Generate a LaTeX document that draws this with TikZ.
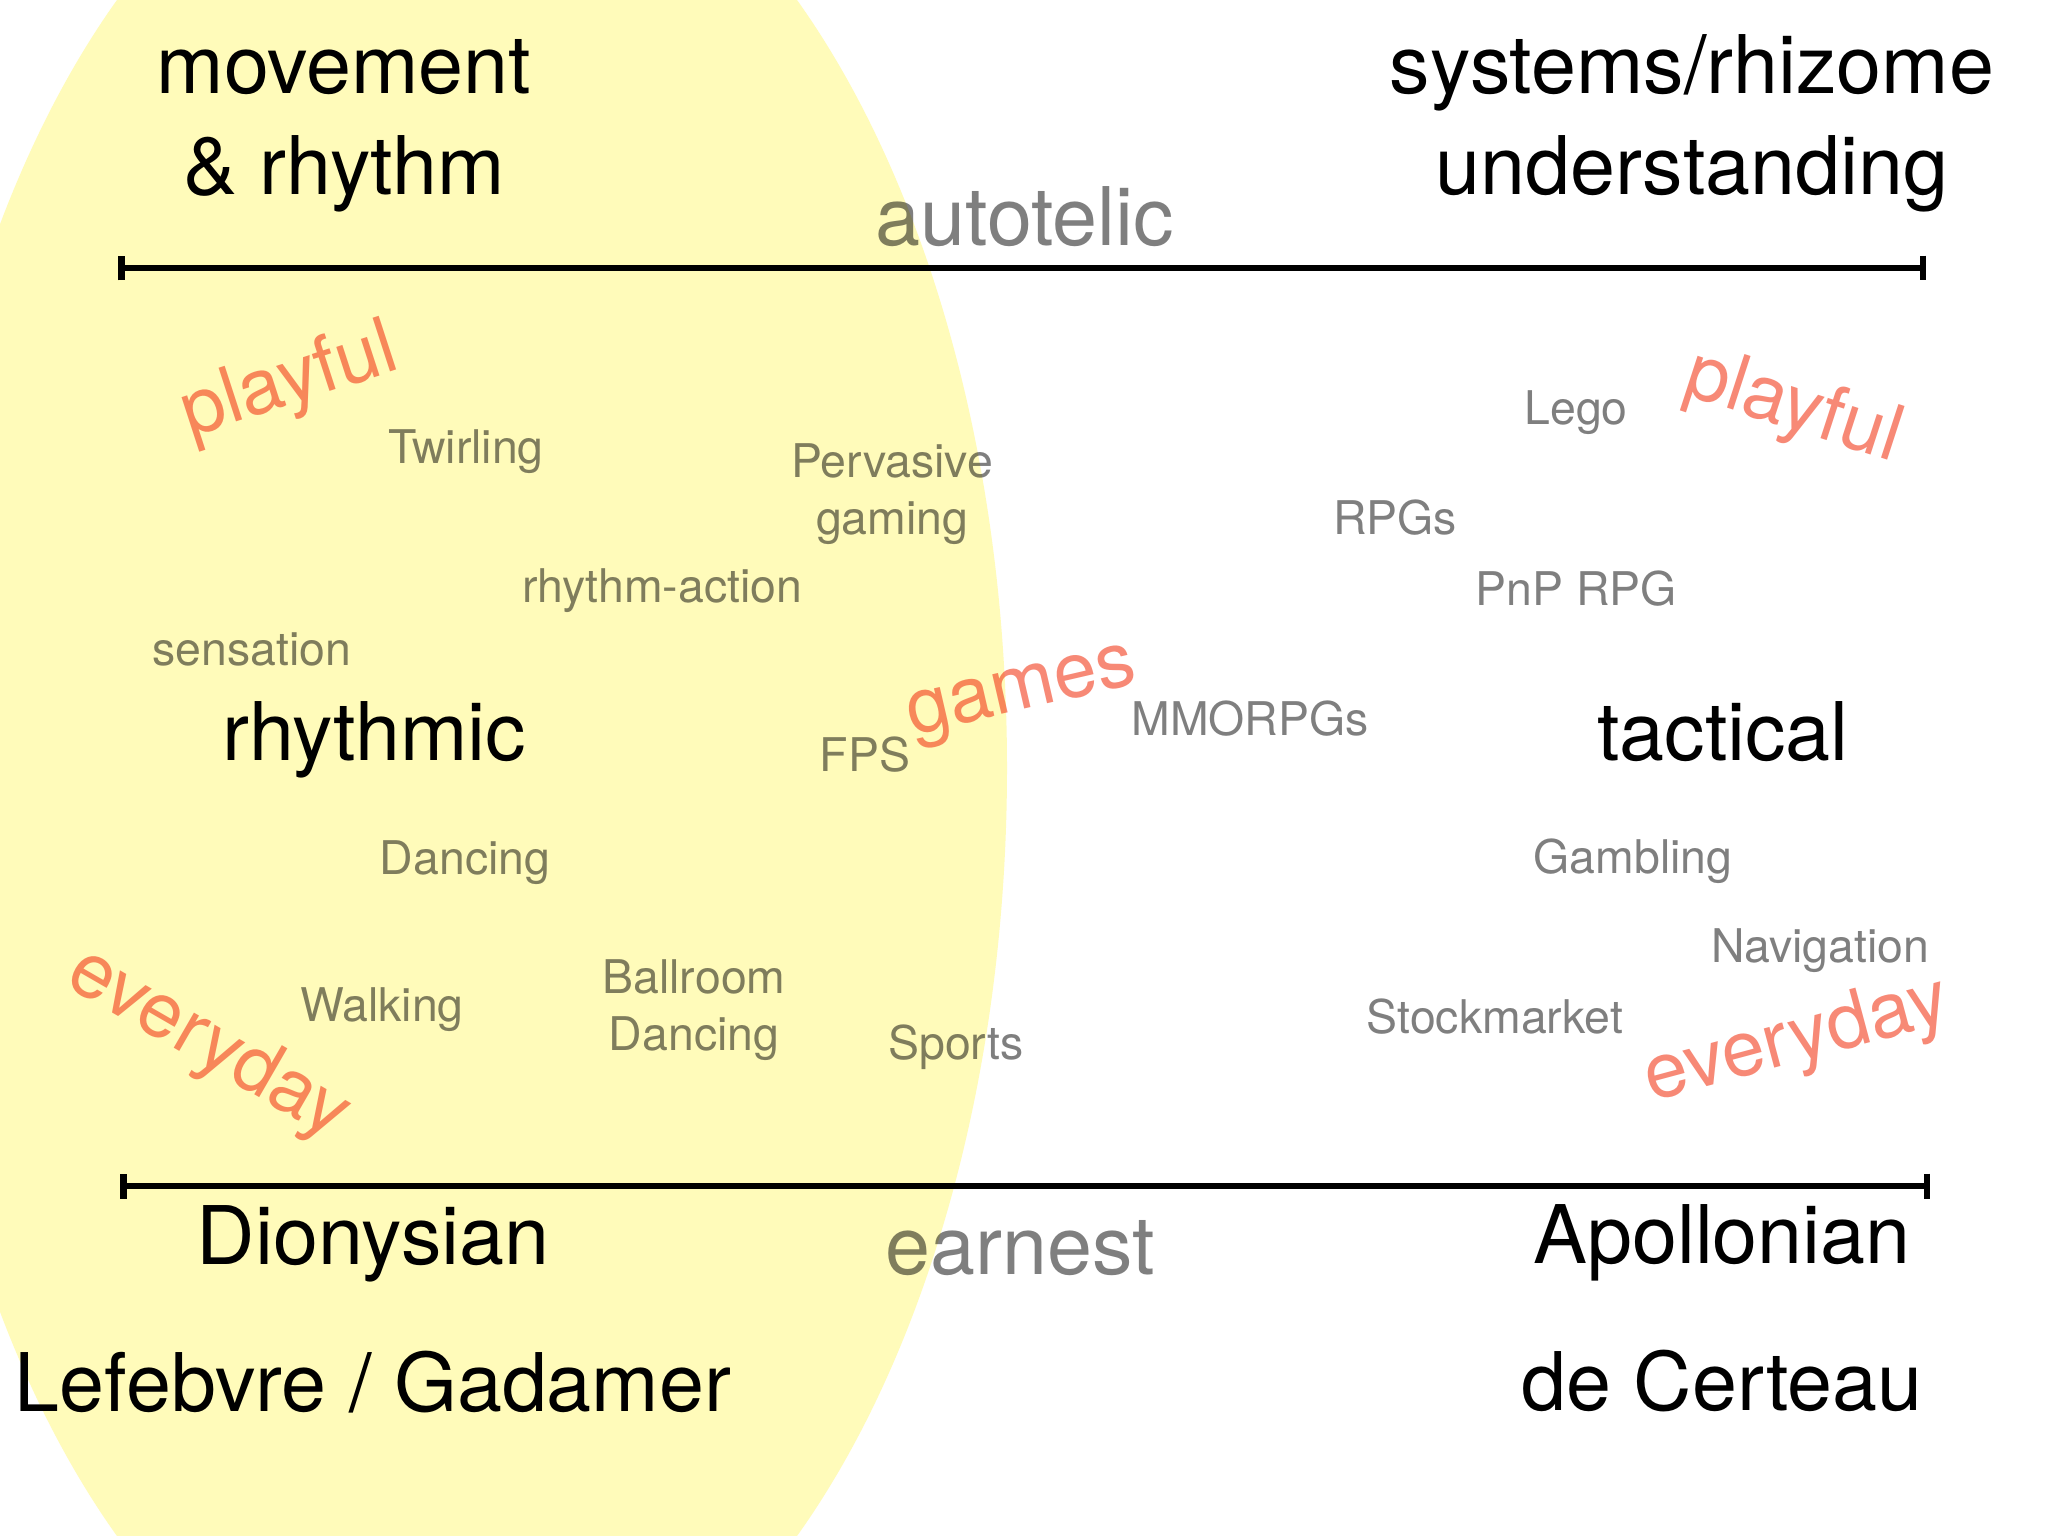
\documentclass[tikz,border=0pt]{standalone}
\usepackage{fontspec}
\setmainfont{TeX Gyre Heros}
\usetikzlibrary{arrows.meta}
\usetikzlibrary{positioning}

\definecolor{paleyellow}{RGB}{255,251,186}
\definecolor{salmon}{RGB}{242,52,20}

\begin{document}
\begin{tikzpicture}[
    x=0.01cm, y=-0.01cm,
    inner sep=0pt
]
\tikzset{
    bigtext/.style = {anchor=base, align=center, font=\fontsize{23}{28.7}\selectfont},
    midtext/.style = {anchor=base, font=\fontsize{23}{28.7}\selectfont, text=black, text opacity=0.5},
    smalltext/.style = {anchor=base, align=center, font=\fontsize{13.2}{16}\selectfont, text=black, text opacity=0.5},
    redtext/.style = {font=\fontsize{22}{26}\selectfont, text=salmon, text opacity=0.58},
    axisline/.style = {{Bar[width=7.1pt]}-{Bar[width=7.1pt]}, line width=1.85pt}
}
\useasboundingbox (0,0) rectangle (2048,1536);
\fill[white] (0,0) rectangle (2048,1536);
\begin{scope}
\clip (0,0) rectangle (2048,1536);
\fill[paleyellow] (457,768) ellipse [x radius=550, y radius=977];
\end{scope}

% top axis (base of two-line nodes = last line)
\node[bigtext] (movement) at (344,194) {movement\\\& rhythm};
\node[bigtext] (systems) at (1692,194) {systems/rhizome\\understanding};
\node[midtext] (autotelic) at (1025,245) {autotelic};
\coordinate (topl) at (118,268);
\coordinate (topr) at (1926,268);
\draw[axisline] (topl) -- (topr);

% bottom axis
\coordinate (botl) at (120,1186);
\coordinate (botr) at (1930,1186);
\draw[axisline] (botl) -- (botr);
\node[bigtext] (dionysian) at (373,1264) {Dionysian};
\node[bigtext] (apollonian) at (1722,1263) {Apollonian};
\node[midtext] (earnest) at (1020,1274) {earnest};
\node[bigtext] (lefebvre) at (373,1411) {Lefebvre / Gadamer};
\node[bigtext] (certeau) at (1722,1410) {de Certeau};

% poles
\node[bigtext] (rhythmic) at (374,760) {rhythmic};
\node[bigtext] (tactical) at (1723,760) {tactical};

% examples
\node[smalltext] (twirling) at (466,463) {Twirling};
\node[smalltext] (pervasive) at (892,534) {Pervasive\\gaming};
\node[smalltext] (rhythmaction) at (662,602) {rhythm-action};
\node[smalltext] (sensation) at (252,665) {sensation};
\node[smalltext] (fps) at (865,771) {FPS};
\node[smalltext] (dancing) at (465,874) {Dancing};
\node[smalltext] (walking) at (382,1021) {Walking};
\node[smalltext] (ballroom) at (694,1050) {Ballroom\\Dancing};
\node[smalltext] (sports) at (956,1059) {Sports};
\node[smalltext] (lego) at (1576,424) {Lego};
\node[smalltext] (rpgs) at (1395,534) {RPGs};
\node[smalltext] (pnprpg) at (1576,605) {PnP RPG};
\node[smalltext] (mmorpgs) at (1250,735) {MMORPGs};
\node[smalltext] (gambling) at (1633,873) {Gambling};
\node[smalltext] (navigation) at (1820,962) {Navigation};
\node[smalltext] (stockmarket) at (1495,1033) {Stockmarket};

% red words
\node[redtext, rotate=18] (playfull) at (290,384) {playful};
\node[redtext, rotate=-18] (playfulr) at (1793,409) {playful};
\node[redtext, rotate=13] (games) at (1023,697) {games};
\node[redtext, rotate=-30] (everydayl) at (208,1045) {everyday};
\node[redtext, rotate=15] (everydayr) at (1797,1042) {everyday};
\end{tikzpicture}
\end{document}
